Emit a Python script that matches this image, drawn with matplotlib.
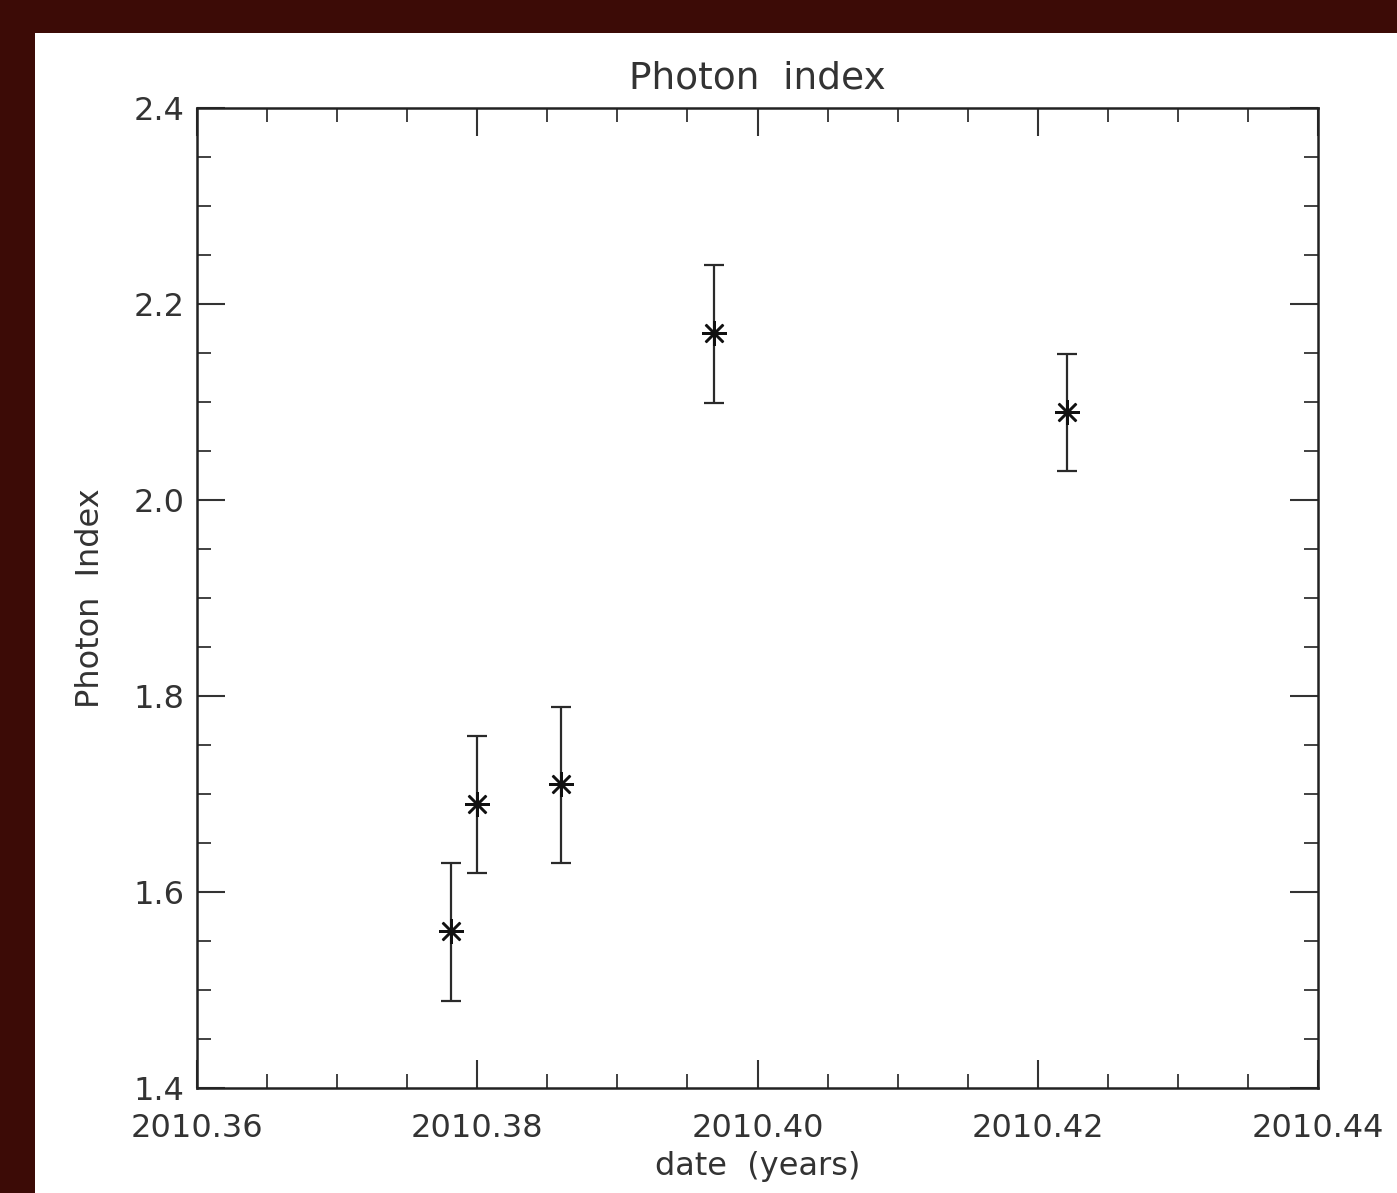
import matplotlib
matplotlib.use("Agg")
import matplotlib.pyplot as plt
from matplotlib.patches import Rectangle
from matplotlib.ticker import MultipleLocator, FormatStrFormatter

# Data
dates = [2010.3781, 2010.3800, 2010.3860, 2010.3969, 2010.4221]
index = [1.56, 1.69, 1.71, 2.17, 2.09]
err_low = [1.489, 1.619, 1.630, 2.099, 2.030]
err_high = [1.630, 1.759, 1.789, 2.240, 2.149]

title = "Photon  index"
xlabel = "date  (years)"
ylabel = "Photon  Index"

plt.rcParams['font.family'] = ['DejaVu Sans']

fig = plt.figure(figsize=(13.97, 11.93), dpi=100)
fig.patch.set_facecolor('#3c0b06')
fig.patches.append(Rectangle((35/1397, 0), 1, (1193-33)/1193, transform=fig.transFigure,
                             facecolor='white', edgecolor='none', zorder=-10))

ax = fig.add_axes([197/1397, 1 - 1088/1193, (1318-197)/1397, (1088-108)/1193])
ax.set_facecolor('white')
ax.set_zorder(5)

yerr = [[v - lo for v, lo in zip(index, err_low)], [hi - v for v, hi in zip(index, err_high)]]
ax.errorbar(dates, index, yerr=yerr, fmt='none', ecolor='#2a2a2a', elinewidth=1.6,
            capsize=7, capthick=1.6)
ax.plot(dates, index, linestyle='none', marker=(8, 2, 0), markersize=18,
        markeredgewidth=1.8, color='#111111')

ax.set_xlim(2010.36, 2010.44)
ax.set_ylim(1.4, 2.4)
ax.xaxis.set_major_locator(MultipleLocator(0.02))
ax.xaxis.set_minor_locator(MultipleLocator(0.005))
ax.yaxis.set_major_locator(MultipleLocator(0.2))
ax.yaxis.set_minor_locator(MultipleLocator(0.05))
ax.xaxis.set_major_formatter(FormatStrFormatter('%.2f'))
ax.yaxis.set_major_formatter(FormatStrFormatter('%.1f'))

ax.tick_params(which='both', direction='in', top=True, right=True, color='#333333')
ax.tick_params(which='major', length=20, width=1.5, labelsize=23, labelcolor='#333333')
ax.tick_params(which='minor', length=10, width=1.3)
ax.tick_params(axis='x', which='major', pad=18)
ax.tick_params(axis='y', which='major', pad=9)
for s in ax.spines.values():
    s.set_linewidth(1.8)
    s.set_color('#222222')

ax.set_title(title, fontsize=27, color='#333333', pad=14)
ax.set_xlabel(xlabel, fontsize=23, color='#333333', labelpad=5)
ax.set_ylabel(ylabel, fontsize=23, color='#333333', labelpad=20)

fig.savefig('out.png', dpi=100, facecolor=fig.get_facecolor())
